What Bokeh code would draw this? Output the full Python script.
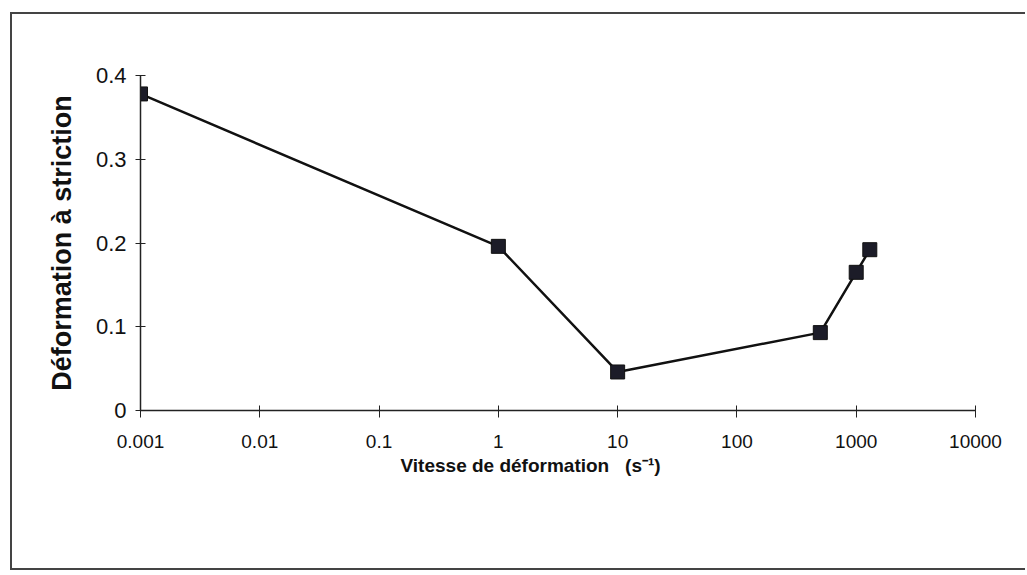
from bokeh.plotting import figure
from bokeh.models import FixedTicker, Title
from bokeh.embed import file_html
from bokeh.resources import INLINE

# data
strain_rate = [0.001, 1, 10, 500, 1000, 1300]
necking_strain = [0.378, 0.196, 0.046, 0.093, 0.165, 0.192]

x_ticks = [0.001, 0.01, 0.1, 1, 10, 100, 1000, 10000]
x_tick_labels = ["0.001", "0.01", "0.1", "1", "10", "100", "1000", "10000"]
y_ticks = [0, 0.1, 0.2, 0.3, 0.4]
y_tick_labels = ["0", "0.1", "0.2", "0.3", "0.4"]

x_title = "Vitesse de déformation\u00a0\u00a0\u00a0(s⁻¹)"
y_title = "Déformation à striction"

FONT = "Liberation Sans"

p = figure(width=1030, height=558, x_axis_type="log",
           x_range=(0.001, 10000), y_range=(0, 0.4),
           output_backend="svg", toolbar_location=None,
           min_border_left=128, min_border_right=52,
           min_border_top=61, min_border_bottom=162)

p.styles = {"border-left": "2px solid #444444",
            "border-top": "2px solid #444444",
            "border-bottom": "2px solid #444444",
            "margin-left": "10px", "margin-top": "12px",
            "max-width": "1015px", "overflow": "hidden"}

p.outline_line_color = None
p.grid.visible = False
p.background_fill_color = "white"
p.border_fill_color = "white"

p.line(strain_rate, necking_strain, line_color="#111111", line_width=2.5)
p.scatter(strain_rate, necking_strain, marker="square", size=14,
          fill_color="#1c1c28", line_color="#111111", line_width=1)

# x axis
xa = p.xaxis[0]
xa.ticker = FixedTicker(ticks=x_ticks, minor_ticks=[])
xa.major_label_overrides = {t: l for t, l in zip(x_ticks, x_tick_labels)}
xa.axis_line_color = "#222222"
xa.axis_line_width = 1.5
xa.major_tick_line_color = "#222222"
xa.major_tick_in = 5
xa.major_tick_out = 7
xa.minor_tick_line_color = None
xa.major_label_text_font = FONT
xa.major_label_text_font_size = "19px"
xa.major_label_text_color = "#111111"
xa.major_label_standoff = 17

p.add_layout(Title(text=x_title, align="left", offset=260,
                   text_font=FONT, text_font_style="bold",
                   text_font_size="19px", text_color="#111111",
                   standoff=4), "below")

# y axis
ya = p.yaxis[0]
ya.ticker = FixedTicker(ticks=y_ticks, minor_ticks=[])
ya.major_label_overrides = {t: l for t, l in zip(y_ticks, y_tick_labels)}
ya.axis_line_color = "#222222"
ya.axis_line_width = 1.5
ya.major_tick_line_color = "#222222"
ya.major_tick_in = 5
ya.major_tick_out = 5
ya.minor_tick_line_color = None
ya.major_label_text_font = FONT
ya.major_label_text_font_size = "22px"
ya.major_label_text_color = "#111111"
ya.major_label_standoff = 9
ya.axis_label = y_title
ya.axis_label_text_font = FONT
ya.axis_label_text_font_style = "bold"
ya.axis_label_text_font_size = "27px"
ya.axis_label_text_color = "#111111"
ya.axis_label_standoff = 16

open("out.html", "w").write(file_html(p, INLINE))
